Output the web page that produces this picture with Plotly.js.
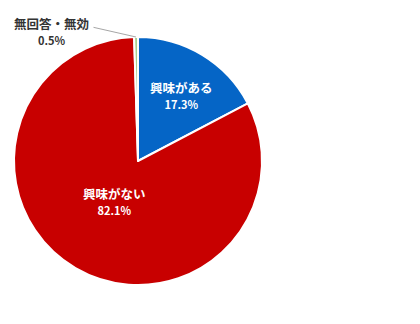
<!DOCTYPE html>
<html><head><meta charset="utf-8">
<script src="https://cdn.plot.ly/plotly-3.0.1.min.js"></script>
<style>html,body{margin:0;padding:0;background:#fff;}#chart{width:420px;height:324px;}</style>
</head><body><div id="chart"></div>
<script>
const labels = ["興味がある", "興味がない", "無回答・無効"];
const values = [17.3, 82.1, 0.5];
const colors = ["#0565C6", "#C80000", "#A9D08E"];
const fontFam = "'Noto Sans CJK JP', 'Noto Sans', sans-serif";

const W = 420, H = 324;
const domX = [14/W, 262/W];
const domY = [1 - 285/H, 1 - 37/H];
const rPx = 124;
const cxPx = (domX[0] + domX[1]) / 2 * W;
const cyPx = (1 - (domY[0] + domY[1]) / 2) * H;

const trace = {
  type: "pie",
  labels: labels,
  values: values,
  sort: false,
  direction: "clockwise",
  rotation: 0,
  marker: {colors: colors, line: {color: "#ffffff", width: 2}},
  textinfo: "none",
  domain: {x: domX, y: domY},
  hoverinfo: "none",
  showlegend: false
};

const total = values.reduce((a, b) => a + b, 0);
let cum = 0;
const mids = values.map(v => { const m = 2 * Math.PI * (cum + v / 2) / total; cum += v; return m; });
const radFrac = [0.64, 0.37];
const angOff = [0.04, 0];

function lbl(i) {
  return "<b>" + labels[i] + "</b><br><b><span style='font-size:11px'>" + values[i].toFixed(1) + "%</span></b>";
}

const annotations = [];
for (let i = 0; i < 2; i++) {
  const a = mids[i] + angOff[i];
  const px = cxPx + rPx * radFrac[i] * Math.sin(a);
  const py = cyPx - rPx * radFrac[i] * Math.cos(a);
  annotations.push({
    xref: "paper", yref: "paper", x: px / W, y: 1 - py / H,
    xanchor: "center", yanchor: "middle", showarrow: false, align: "center",
    text: lbl(i), font: {size: 12.5, color: "#ffffff", family: fontFam}
  });
}
// leader line for the small slice
const tipPxX = cxPx + rPx * Math.sin(mids[2]);
const tipPxY = cyPx - rPx * Math.cos(mids[2]);
annotations.push({
  xref: "paper", yref: "paper", x: tipPxX / W, y: 1 - tipPxY / H,
  ax: 92 - tipPxX, ay: 27 - tipPxY,
  showarrow: true, arrowhead: 0, arrowwidth: 1, arrowcolor: "#A6A6A6",
  text: "", standoff: 0
});
annotations.push({
  xref: "paper", yref: "paper", x: 51 / W, y: 1 - 31 / H,
  xanchor: "center", yanchor: "middle", showarrow: false, align: "center",
  text: lbl(2), font: {size: 12.5, color: "#333333", family: fontFam}
});

const layout = {
  width: W, height: H,
  margin: {l: 0, r: 0, t: 0, b: 0},
  paper_bgcolor: "#ffffff",
  font: {family: fontFam},
  annotations: annotations
};

Plotly.newPlot("chart", [trace], layout, {displayModeBar: false, staticPlot: true});
</script>
</body></html>
